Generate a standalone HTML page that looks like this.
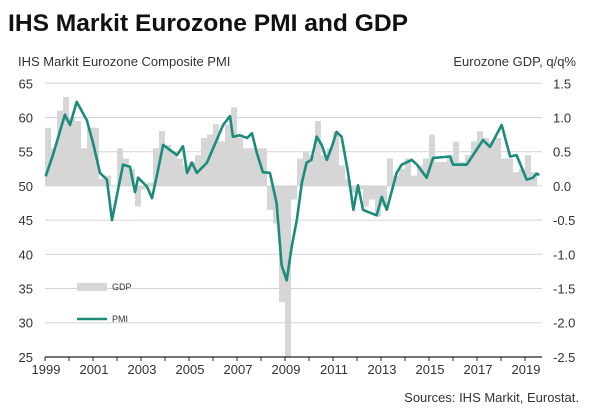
<!DOCTYPE html>
<html><head><meta charset="utf-8"><style>
html,body{margin:0;padding:0;background:#fff;}
svg{display:block;font-family:"Liberation Sans",Arial,sans-serif;}
</style></head><body>
<svg id="chart" width="600" height="420" viewBox="0 0 600 420">
<rect x="0" y="0" width="600" height="420" fill="#fff"/>
<text x="8" y="31" font-size="24" font-weight="bold" fill="#111" textLength="400" lengthAdjust="spacingAndGlyphs">IHS Markit Eurozone PMI and GDP</text>
<text x="18" y="66" font-size="13" fill="#333">IHS Markit Eurozone Composite PMI</text>
<text x="576" y="66" font-size="13" fill="#333" text-anchor="end">Eurozone GDP, q/q%</text>
<text x="579" y="402" font-size="13" fill="#333" text-anchor="end">Sources: IHS Markit, Eurostat.</text>
<g id="grid"></g><g id="bars"></g><g id="axes"></g><g id="line"></g>
<g>
<rect x="77" y="283" width="30" height="8" fill="#d6d6d6"/>
<text x="112" y="290" font-size="9" fill="#333">GDP</text>
<line x1="77" y1="319" x2="107" y2="319" stroke="#1b8b7c" stroke-width="2.5"/>
<text x="112" y="322" font-size="9" fill="#333">PMI</text>
</g>
</svg>
<script>
const leftTicks=[65,60,55,50,45,40,35,30,25];
const rightTicks=["1.5","1.0","0.5","0.0","-0.5","-1.0","-1.5","-2.0","-2.5"];
const yearLabels=[1999,2001,2003,2005,2007,2009,2011,2013,2015,2017,2019];
const gdpStartYear=1999;
const gdpValues=[0.85,0.55,1.1,1.3, 1.0,0.95,0.55,0.85, 0.85,0.1,0.15,0.0, 0.55,0.4,0.25,-0.3,
 -0.05,0.05,0.55,0.8, 0.6,0.5,0.4,0.3, 0.35,0.45,0.7,0.75, 0.9,0.65,0.9,1.15,
 0.7,0.55,0.55,0.55, 0.55,-0.35,-0.55,-1.7, -3.1,-0.2,0.4,0.5, 0.45,0.95,0.45,0.55,
 0.8,0.3,0.1,-0.1, -0.05,-0.3,-0.2,-0.45, -0.3,0.4,0.15,0.25, 0.4,0.15,0.3,0.4,
 0.75,0.35,0.35,0.45, 0.65,0.35,0.45,0.65, 0.8,0.7,0.65,0.7, 0.4,0.4,0.2,0.25, 0.45,0.2];
const pmiDates=[1999.03,1999.33,1999.83,2000.04,2000.32,2000.74,2001.0,2001.29,2001.58,2001.79,2002.25,2002.54,2002.75,2002.88,2003.25,2003.46,2003.71,2003.92,2004.5,2004.75,2004.92,2005.12,2005.33,2005.75,2006.42,2006.71,2006.83,2007.12,2007.42,2007.62,2007.83,2008.08,2008.37,2008.65,2008.86,2009.07,2009.28,2009.49,2009.7,2009.9,2010.1,2010.32,2010.53,2010.74,2010.95,2011.15,2011.36,2011.63,2011.85,2012.04,2012.25,2012.46,2012.82,2013.03,2013.24,2013.65,2013.86,2014.28,2014.5,2014.9,2015.17,2015.88,2016.0,2016.57,2017.25,2017.54,2018.03,2018.38,2018.65,2019.07,2019.33,2019.48,2019.6];
const pmiValues=[51.4,54.5,60.4,58.9,62.3,59.6,56.3,51.9,50.9,45.0,53.1,52.8,49.1,51.2,49.9,48.2,52.3,56.0,54.5,55.8,51.9,53.4,51.9,53.4,58.9,60.2,57.2,57.4,57.0,57.7,54.8,52.0,51.9,47.5,38.4,36.2,41.1,45.0,50.4,53.4,53.8,57.2,56.0,53.8,55.7,57.9,57.2,51.9,46.5,50.1,46.5,46.2,45.7,48.4,46.5,51.9,53.1,53.8,53.1,51.2,54.1,54.3,53.1,53.1,56.7,55.7,58.9,54.3,54.5,50.9,51.2,51.8,51.6];

const NS="http://www.w3.org/2000/svg";
const X0=45,PX_YR=24,Y50=185.9,PX_U=6.84,YBOT=357,XEND=542;
const xS=yr=>X0+(yr-1999)*PX_YR;
const yP=v=>Y50-(v-50)*PX_U;
const yG=g=>Y50-g*10*PX_U;
function mk(t,attrs,parent){const e=document.createElementNS(NS,t);for(const k in attrs)e.setAttribute(k,attrs[k]);parent.appendChild(e);return e;}
const grid=document.getElementById('grid'),axes=document.getElementById('axes'),bars=document.getElementById('bars'),lineG=document.getElementById('line');
leftTicks.forEach((v,i)=>{
 const y=yP(v);
 if(v!==25){const g=mk('line',{x1:X0,x2:XEND,y1:y,y2:y,stroke:'#d4d4d4','stroke-width':1},grid);
 
 }
 const t=mk('text',{x:33,y:y+5,'font-size':13,fill:'#333','text-anchor':'end'},axes);t.textContent=v;
 
 
 const r=mk('text',{x:553,y:y+5,'font-size':13,fill:'#333'},axes);r.textContent=rightTicks[i];
 
 
});
gdpValues.forEach((g,i)=>{
 const yr=gdpStartYear+i/4;
 const x=xS(yr);
 let y1=yG(Math.max(g,0)),y2=Math.min(yG(Math.min(g,0)),YBOT);
 const b=mk('rect',{x:x,y:y1,width:PX_YR/4,height:Math.max(y2-y1,0.5),fill:'#d6d6d6'},bars);
 
 
});
const ax=mk('line',{x1:X0,x2:XEND,y1:YBOT,y2:YBOT,stroke:'#222','stroke-width':1.3},axes);


for(let yr=1999;yr<=2019;yr++){
 const tk=mk('line',{x1:xS(yr),x2:xS(yr),y1:YBOT,y2:YBOT+4,stroke:'#222','stroke-width':1},axes);
 
 
}
yearLabels.forEach(yr=>{
 const t=mk('text',{x:xS(yr)+1,y:YBOT+17,'font-size':13,fill:'#333','text-anchor':'middle'},axes);t.textContent=yr;
 
 
});
const pts=pmiDates.map((d,i)=>xS(d).toFixed(1)+','+yP(pmiValues[i]).toFixed(1)).join(' ');
const pl=mk('polyline',{points:pts,fill:'none',stroke:'#1b8b7c','stroke-width':2.6,'stroke-linejoin':'round'},lineG);


</script>
</body></html>
